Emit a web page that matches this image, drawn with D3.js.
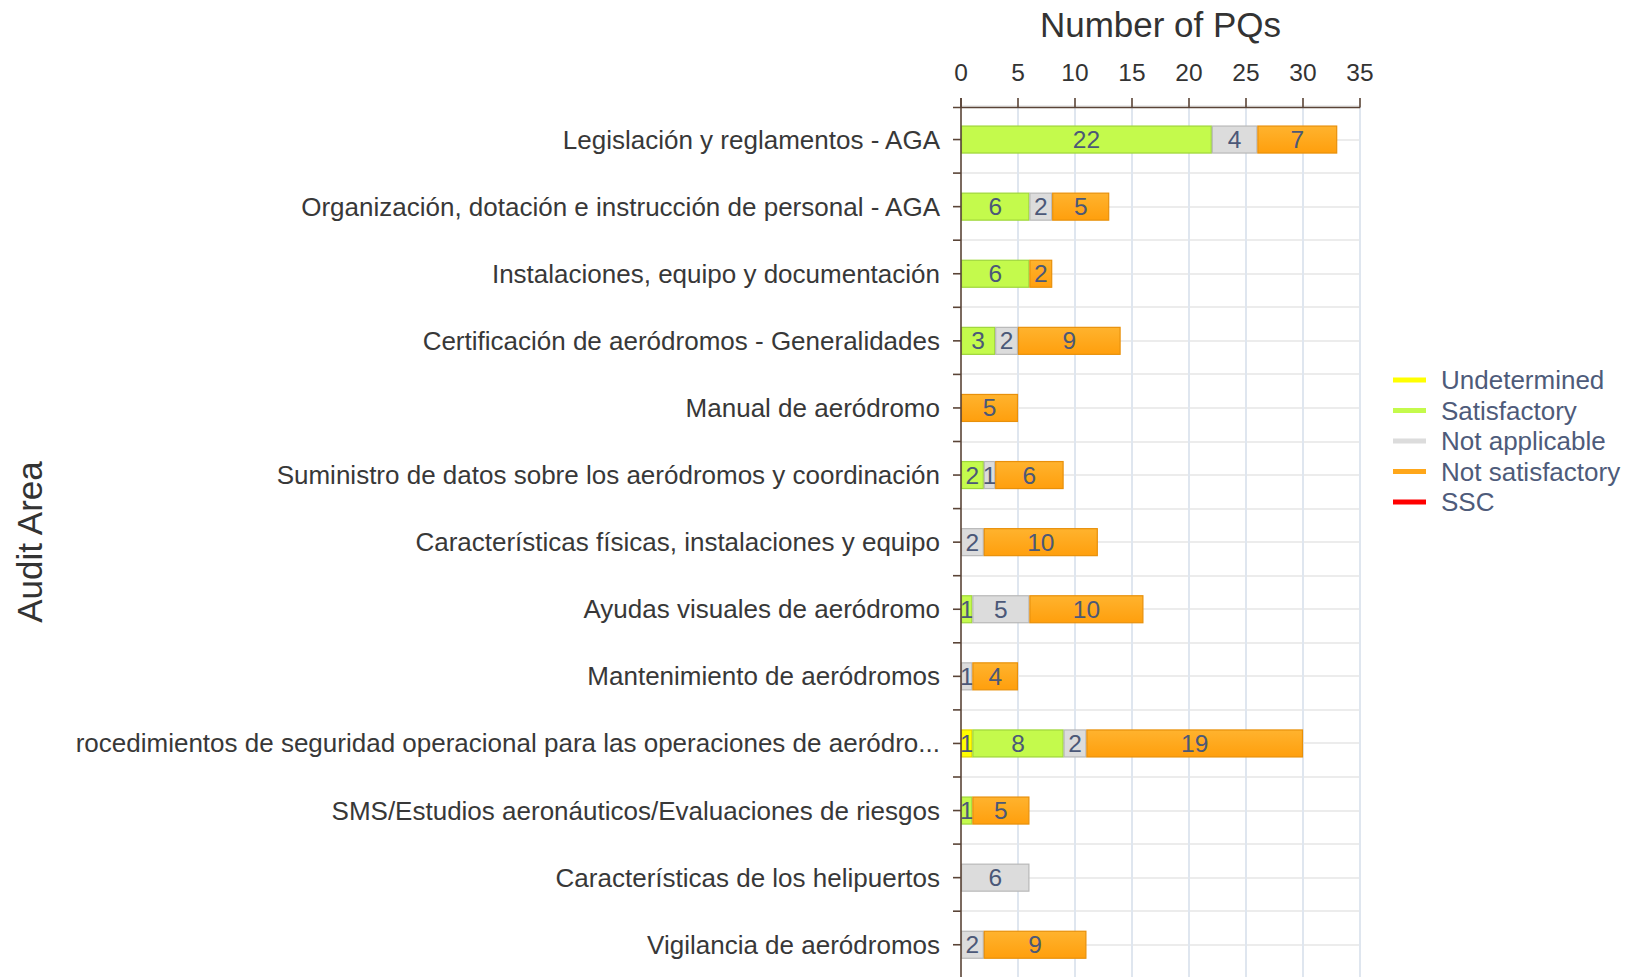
<!DOCTYPE html>
<html>
<head>
<meta charset="utf-8">
<script src="https://cdn.jsdelivr.net/npm/d3@7"></script>
<style>
  body { margin: 0; background: #fff; }
  svg { display: block; font-family: Arial, "Liberation Sans", sans-serif; }
  .grid line { shape-rendering: crispEdges; }
  .cat { font-size: 26px; fill: #383838; }
  .tick-lbl { font-size: 24.5px; fill: #333; }
  .val { font-size: 24.5px; fill: #4b5878; }
  .legend text { font-size: 26px; fill: #4e5b7a; }
  .title { font-size: 35px; fill: #333; }
</style>
</head>
<body>
<svg width="1627" height="977"></svg>
<script>

// audit areas, top to bottom
var categories = [
  "Legislación y reglamentos - AGA",
  "Organización, dotación e instrucción de personal - AGA",
  "Instalaciones, equipo y documentación",
  "Certificación de aeródromos - Generalidades",
  "Manual de aeródromo",
  "Suministro de datos sobre los aeródromos y coordinación",
  "Características físicas, instalaciones y equipo",
  "Ayudas visuales de aeródromo",
  "Mantenimiento de aeródromos",
  "rocedimientos de seguridad operacional para las operaciones de aeródro...",
  "SMS/Estudios aeronáuticos/Evaluaciones de riesgos",
  "Características de los helipuertos",
  "Vigilancia de aeródromos"
];

var seriesNames = ["Undetermined", "Satisfactory", "Not applicable", "Not satisfactory", "SSC"];

var undetermined    = [0, 0, 0, 0, 0, 0, 0, 0, 0, 1, 0, 0, 0];
var satisfactory    = [22, 6, 6, 3, 0, 2, 0, 1, 0, 8, 1, 0, 0];
var notApplicable   = [4, 2, 0, 2, 0, 1, 2, 5, 1, 2, 0, 6, 2];
var notSatisfactory = [7, 5, 2, 9, 5, 6, 10, 10, 4, 19, 5, 0, 9];
var ssc             = [0, 0, 0, 0, 0, 0, 0, 0, 0, 0, 0, 0, 0];

var xTicks = [0, 5, 10, 15, 20, 25, 30, 35];

var fills   = ["#ffff00", "#c4fa4c", "#dcdcdc", "#ffa71a", "#ff0000"];
var strokes = ["#e0d400", "#9fd63a", "#b8b8b8", "#e8900a", "#d00000"];

// table for d3.stack
var table = categories.map(function(c, i) {
  return {
    cat: c,
    "Undetermined": undetermined[i],
    "Satisfactory": satisfactory[i],
    "Not applicable": notApplicable[i],
    "Not satisfactory": notSatisfactory[i],
    "SSC": ssc[i]
  };
});

var svg = d3.select("svg");

var x = d3.scaleLinear().domain([0, 35]).range([961, 1360]);
var y = d3.scaleBand().domain(categories).range([106, 106 + 13 * 67.1]).padding(0);
var barH = 27;

// orange gradient
var defs = svg.append("defs");
var grad = defs.append("linearGradient").attr("id", "gOrange").attr("x1", 0).attr("y1", 0).attr("x2", 0).attr("y2", 1);
grad.append("stop").attr("offset", "0%").attr("stop-color", "#ffb32e");
grad.append("stop").attr("offset", "100%").attr("stop-color", "#ff9f0d");

// grid
var grid = svg.append("g").attr("class", "grid");
var hLines = [];
categories.forEach(function(c) {
  hLines.push(y(c));
  hLines.push(y(c) + y.bandwidth() / 2);
});
grid.selectAll(".h").data(hLines).enter().append("line")
  .attr("x1", x(0)).attr("x2", x(35))
  .attr("y1", function(d) { return Math.round(d); })
  .attr("y2", function(d) { return Math.round(d); })
  .attr("stroke", "#ececec").attr("stroke-width", 1.5);
grid.selectAll(".v").data(xTicks.slice(1)).enter().append("line")
  .attr("x1", function(d) { return Math.round(x(d)); })
  .attr("x2", function(d) { return Math.round(x(d)); })
  .attr("y1", 107).attr("y2", 977)
  .attr("stroke", "#dfe6ef").attr("stroke-width", 2);

// bars
var stack = d3.stack().keys(seriesNames);
var layers = stack(table);

var layer = svg.append("g").selectAll("g").data(layers).enter().append("g")
  .attr("fill", function(d, i) { return i === 3 ? "url(#gOrange)" : fills[i]; })
  .attr("stroke", function(d, i) { return strokes[i]; });

layer.selectAll("rect")
  .data(function(d) { return d.filter(function(s) { return s[1] - s[0] > 0; }); })
  .enter().append("rect")
  .attr("x", function(d) { return x(d[0]) + 0.5; })
  .attr("y", function(d) { return y(d.data.cat) + (y.bandwidth() - barH) / 2; })
  .attr("width", function(d) { return x(d[1]) - x(d[0]) - 1; })
  .attr("height", barH)
  .attr("stroke-width", 1.2);

// value labels
layer.selectAll("text")
  .data(function(d) { return d.filter(function(s) { return s[1] - s[0] > 0; }); })
  .enter().append("text")
  .attr("class", "val")
  .attr("stroke", "none")
  .attr("text-anchor", "middle")
  .attr("x", function(d) { return (x(d[0]) + x(d[1])) / 2; })
  .attr("y", function(d) { return y(d.data.cat) + y.bandwidth() / 2 + 8.5; })
  .text(function(d) { return d[1] - d[0]; });

// axes
var axisColor = "#5a4437";
svg.append("line")
  .attr("x1", 953).attr("x2", x(35)).attr("y1", 107.5).attr("y2", 107.5)
  .attr("stroke", axisColor).attr("stroke-width", 1.6);
svg.append("line")
  .attr("x1", x(0)).attr("x2", x(0)).attr("y1", 98).attr("y2", 977)
  .attr("stroke", axisColor).attr("stroke-width", 1.6);

svg.selectAll(".xt").data(xTicks).enter().append("line")
  .attr("x1", function(d) { return x(d); }).attr("x2", function(d) { return x(d); })
  .attr("y1", 98).attr("y2", 107.5)
  .attr("stroke", axisColor).attr("stroke-width", 1.6);

svg.selectAll(".xl").data(xTicks).enter().append("text")
  .attr("class", "tick-lbl")
  .attr("text-anchor", "middle")
  .attr("x", function(d) { return x(d); })
  .attr("y", 80.5)
  .text(function(d) { return d; });

// y ticks at band edges and centres
var yTicks = [];
categories.forEach(function(c) {
  yTicks.push(y(c));
  yTicks.push(y(c) + y.bandwidth() / 2);
});
svg.selectAll(".yt").data(yTicks.slice(1)).enter().append("line")
  .attr("x1", 953).attr("x2", x(0))
  .attr("y1", function(d) { return d; }).attr("y2", function(d) { return d; })
  .attr("stroke", axisColor).attr("stroke-width", 1.6);

svg.selectAll(".cat").data(categories).enter().append("text")
  .attr("class", "cat")
  .attr("text-anchor", "end")
  .attr("x", 940)
  .attr("y", function(d) { return y(d) + y.bandwidth() / 2 + 9; })
  .text(function(d) { return d; });

// titles
svg.append("text").attr("class", "title")
  .attr("text-anchor", "middle")
  .attr("x", (x(0) + x(35)) / 2).attr("y", 37)
  .text("Number of PQs");

svg.append("text").attr("class", "title")
  .attr("text-anchor", "middle")
  .attr("transform", "translate(42,542) rotate(-90)")
  .text("Audit Area");

// legend
var legend = svg.append("g").attr("class", "legend");
var items = legend.selectAll("g").data(seriesNames).enter().append("g")
  .attr("transform", function(d, i) { return "translate(1393," + (380 + i * 30.5) + ")"; });
items.append("line")
  .attr("x1", 0).attr("x2", 33).attr("y1", 0).attr("y2", 0)
  .attr("stroke", function(d, i) { return fills[i]; })
  .attr("stroke-width", 5);
items.append("text")
  .attr("x", 48).attr("y", 9)
  .text(function(d) { return d; });

</script>
</body>
</html>
